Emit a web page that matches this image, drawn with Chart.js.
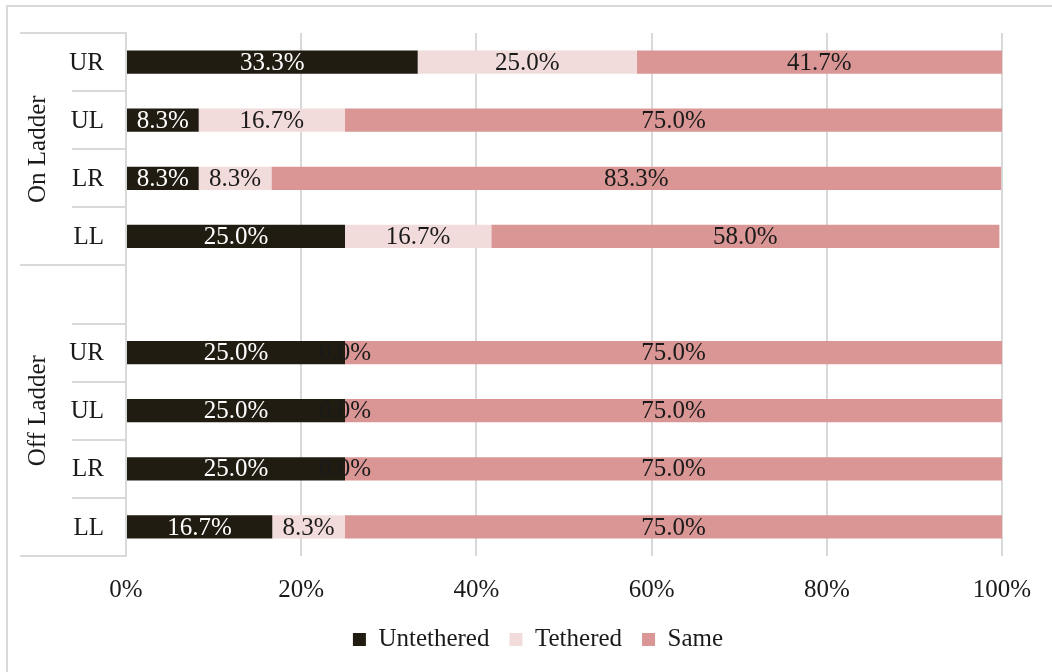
<!DOCTYPE html>
<html>
<head>
<meta charset="utf-8">
<script src="https://cdn.jsdelivr.net/npm/chart.js@4/dist/chart.umd.min.js"></script>
<style>
    html, body { margin: 0; padding: 0; background: #fff; overflow: hidden; }
    #frame {
        position: absolute; left: 6px; top: 5px; width: 1100px; height: 720px;
        border: 2px solid #d9d9d9; box-sizing: border-box;
    }
    #wrap { position: absolute; left: 0; top: 0; width: 1052px; height: 672px; }
</style>
</head>
<body>
<div id="frame"></div>
<div id="wrap"><canvas id="chartLadder"></canvas></div>
<script>
    // Rows top to bottom; the blank row separates the two groups
    const rows = ['UR', 'UL', 'LR', 'LL', '', 'UR', 'UL', 'LR', 'LL'];
    const groups = [
        { name: 'On Ladder', first: 0, last: 3 },
        { name: 'Off Ladder', first: 4, last: 8 }
    ];
    const untethered = [33.3, 8.3, 8.3, 25.0, null, 25.0, 25.0, 25.0, 16.7];
    const tethered   = [25.0, 16.7, 8.3, 16.7, null, 0.0, 0.0, 0.0, 8.3];
    const same       = [41.7, 75.0, 83.3, 58.0, null, 75.0, 75.0, 75.0, 75.0];
    const xTicks = [0, 20, 40, 60, 80, 100];

    const FONT = "'Liberation Serif', 'Times New Roman', serif";
    const TEXT = '#1a1a1a';
    const LINE = '#d9d9d9';
    const PAD_LEFT = 74;

    // Value labels centred in each segment
    const segmentLabels = {
        id: 'segmentLabels',
        afterDatasetsDraw(chart) {
            const ctx = chart.ctx;
            ctx.save();
            ctx.font = '25px ' + FONT;
            ctx.textAlign = 'center';
            ctx.textBaseline = 'middle';
            chart.data.datasets.forEach((ds, di) => {
                const meta = chart.getDatasetMeta(di);
                meta.data.forEach((bar, i) => {
                    const v = ds.data[i];
                    if (v === null || v === undefined) return;
                    ctx.fillStyle = di === 0 ? '#ffffff' : TEXT;
                    ctx.fillText(v.toFixed(1) + '%', (bar.x + bar.base) / 2, bar.y + 1);
                });
            });
            ctx.restore();
        }
    };

    // Row labels, separators and rotated group names in the category gutter
    const groupAxis = {
        id: 'groupAxis',
        afterDraw(chart) {
            const ctx = chart.ctx;
            const y = chart.scales.y;
            const area = chart.chartArea;
            const step = (y.getPixelForValue(1) - y.getPixelForValue(0));
            const edge = i => y.getPixelForValue(i) - step / 2;
            ctx.save();
            ctx.strokeStyle = LINE;
            ctx.lineWidth = 2;
            for (let i = 0; i <= rows.length; i++) {
                const isGroupEdge = groups.some(g => g.first === i) || i === rows.length;
                const py = Math.round(edge(i));
                ctx.beginPath();
                ctx.moveTo(isGroupEdge ? 20 : 72, py);
                ctx.lineTo(area.left, py);
                ctx.stroke();
            }
            ctx.font = '25px ' + FONT;
            ctx.fillStyle = TEXT;
            ctx.textBaseline = 'middle';
            ctx.textAlign = 'right';
            rows.forEach((r, i) => {
                if (r) ctx.fillText(r, area.left - 22, y.getPixelForValue(i) + 1);
            });
            ctx.textAlign = 'center';
            groups.forEach(g => {
                const cy = (edge(g.first) + edge(g.last + 1)) / 2;
                ctx.save();
                ctx.translate(38, cy);
                ctx.rotate(-Math.PI / 2);
                ctx.fillText(g.name, 0, 0);
                ctx.restore();
            });
            ctx.restore();
        }
    };

    new Chart(document.getElementById('chartLadder'), {
        type: 'bar',
        data: {
            labels: rows,
            datasets: [
                { label: 'Untethered', data: untethered, backgroundColor: '#201c11' },
                { label: 'Tethered', data: tethered, backgroundColor: '#f2dcdb' },
                { label: 'Same', data: same, backgroundColor: '#d99694' }
            ]
        },
        options: {
            indexAxis: 'y',
            responsive: true,
            maintainAspectRatio: false,
            animation: false,
            categoryPercentage: 1,
            barPercentage: 0.4,
            layout: { padding: { top: 33, right: 50, bottom: 10, left: PAD_LEFT } },
            plugins: {
                legend: {
                    position: 'bottom',
                    labels: {
                        color: TEXT,
                        font: { family: FONT, size: 25 },
                        boxWidth: 13,
                        boxHeight: 13,
                        padding: 20
                    }
                },
                tooltip: { enabled: false }
            },
            scales: {
                x: {
                    stacked: true,
                    min: 0,
                    max: 100,
                    afterBuildTicks: axis => { axis.ticks = xTicks.map(v => ({ value: v })); },
                    afterFit: axis => { axis.height = 51; },
                    ticks: {
                        color: TEXT,
                        font: { family: FONT, size: 25 },
                        padding: 19,
                        callback: v => v + '%'
                    },
                    grid: { color: LINE, lineWidth: 2, drawTicks: false },
                    border: { display: false }
                },
                y: {
                    stacked: true,
                    afterFit: axis => { axis.width = 126 - PAD_LEFT; },
                    ticks: { display: false },
                    grid: { display: false, drawTicks: false },
                    border: { display: true, color: LINE, width: 2 }
                }
            }
        },
        plugins: [segmentLabels, groupAxis]
    });
</script>
</body>
</html>
